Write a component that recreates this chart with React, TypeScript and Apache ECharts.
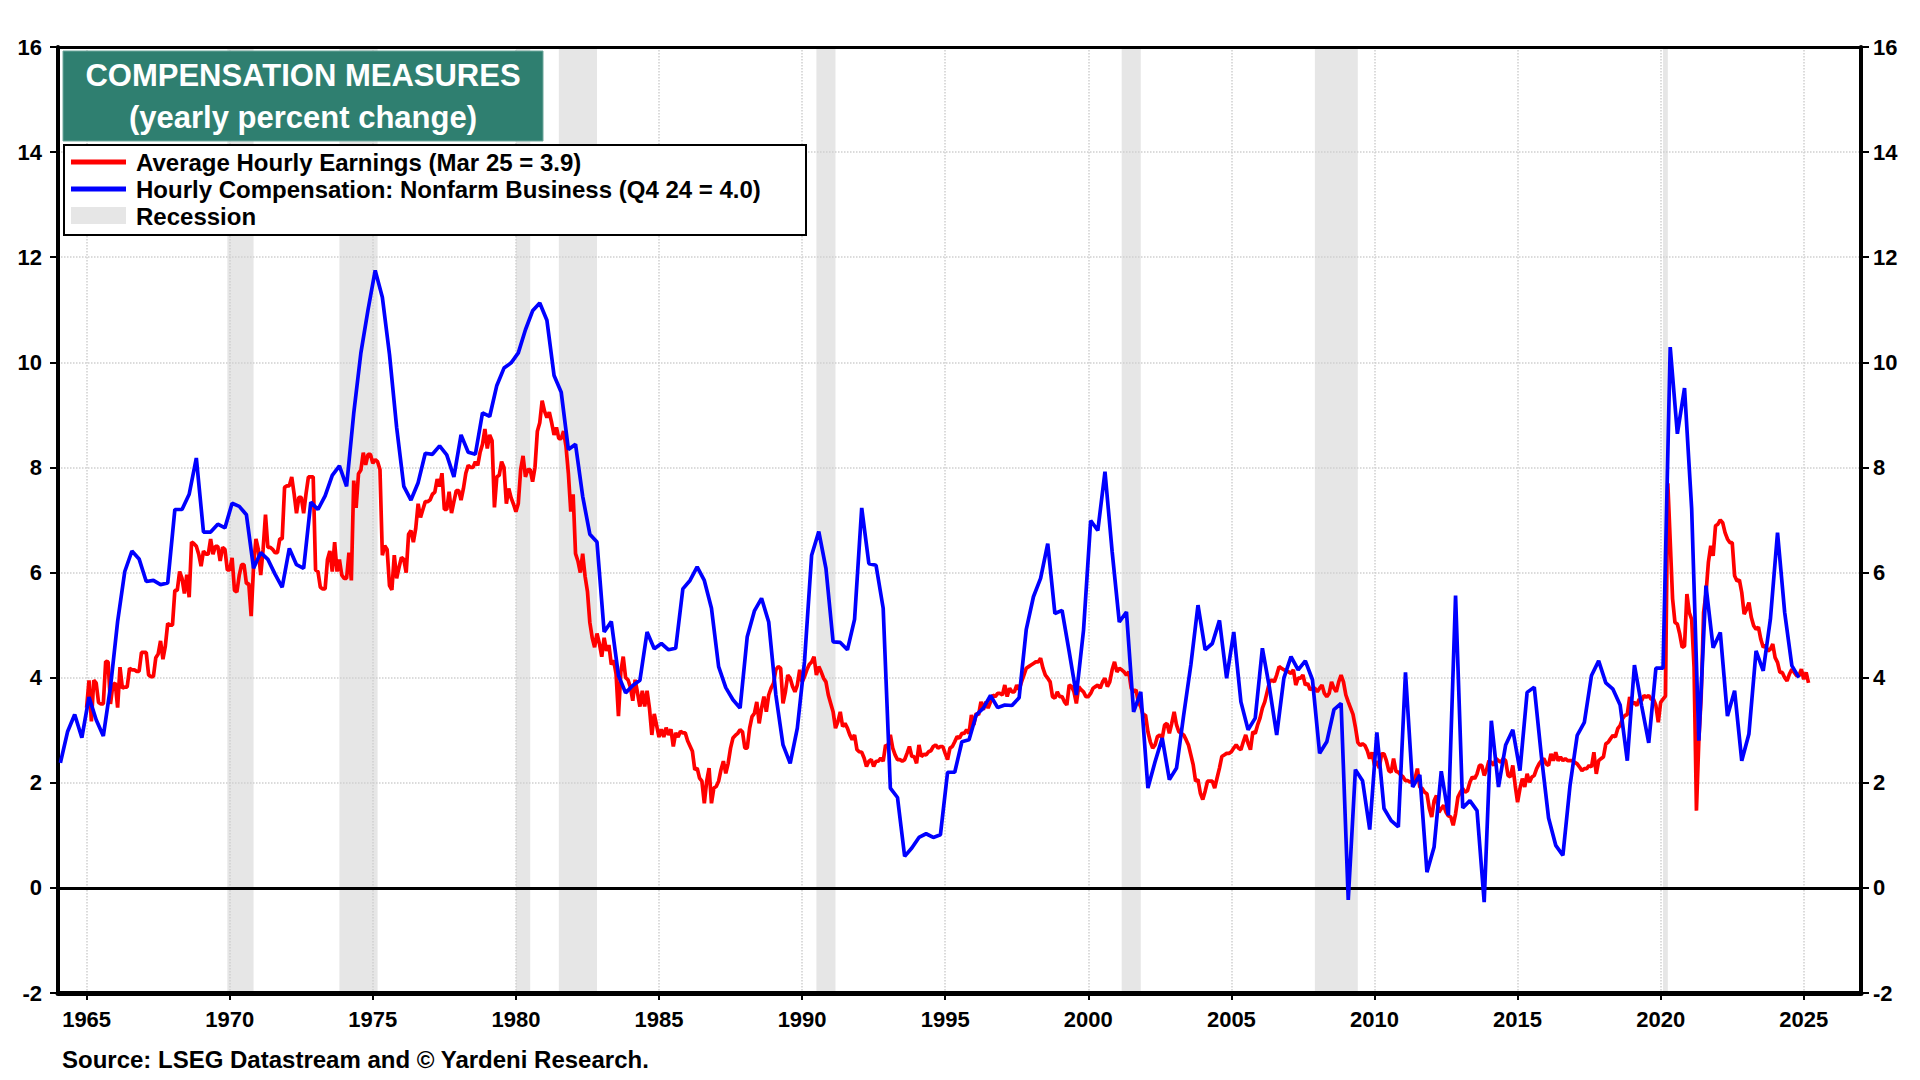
import React, { useEffect, useRef } from "react";
import * as echarts from "echarts";

// ---------- DATA ----------
// Tick labels on the time axis
const yearLabels = ["1965", "1970", "1975", "1980", "1985", "1990", "1995", "2000", "2005", "2010", "2015", "2020", "2025"];

// NBER recessions (start month, end month)
const recessions: [string, string][] = [
  ["1969-12", "1970-11"],
  ["1973-11", "1975-03"],
  ["1980-01", "1980-07"],
  ["1981-07", "1982-11"],
  ["1990-07", "1991-03"],
  ["2001-03", "2001-11"],
  ["2007-12", "2009-06"],
  ["2020-02", "2020-04"],
];

// Average Hourly Earnings, y/y % (monthly, from Jan 1965)
const ahe1965s = [
  3.43, 3.95, 3.17, 3.95, 3.9, 3.53, 3.5, 3.5, 4.31, 4.3, 3.5, 3.86,
  3.9, 3.43, 4.2, 3.8, 3.82, 3.82, 4.18, 4.15, 4.15, 4.12, 4.12, 4.48,
  4.48, 4.48, 4.05, 4.02, 4.02, 4.38, 4.45, 4.7, 4.35, 4.6, 5.03, 5.0,
  5.0, 5.66, 5.66, 6.02, 5.89, 5.6, 5.96, 5.53, 6.58, 6.55, 6.5, 6.35,
  6.12, 6.41, 6.35, 6.35, 6.64, 6.35, 6.5, 6.5, 6.22, 6.48, 6.44, 6.05,
];
const ahe1970s = [
  6.05, 6.28, 5.66, 5.63, 5.95, 6.15, 6.15, 5.79, 5.79, 5.17, 6.12, 6.64,
  6.44, 5.95, 6.44, 7.1, 6.48, 6.48, 6.44, 6.38, 6.38, 6.64, 6.64, 7.62,
  7.65, 7.65, 7.82, 7.5, 7.13, 7.43, 7.43, 7.13, 7.5, 7.82, 7.82, 7.82,
  6.05, 6.02, 5.72, 5.69, 5.69, 6.25, 6.41, 6.02, 6.58, 6.02, 6.25, 5.95,
  5.89, 5.89, 6.38, 5.85, 7.75, 7.23, 7.88, 7.95, 8.28, 8.05, 8.25, 8.25,
  8.08, 8.15, 8.11, 7.96, 6.33, 6.51, 6.44, 5.75, 5.67, 6.33, 5.89, 6.1,
  6.29, 6.25, 6.0, 6.73, 6.8, 6.58, 6.84, 7.31, 7.05, 7.2, 7.35, 7.35,
  7.38, 7.49, 7.53, 7.78, 7.64, 7.89, 7.2, 7.2, 7.54, 7.13, 7.35, 7.56,
  7.56, 7.38, 7.6, 7.89, 8.04, 8.0, 8.0, 8.11, 8.04, 8.29, 8.44, 8.73,
  8.36, 8.62, 8.51, 7.24, 7.82, 7.85, 8.11, 8.0, 7.31, 7.6, 7.42, 7.3,
];
const ahe1980s = [
  7.16, 7.31, 7.96, 8.22, 7.82, 7.96, 7.96, 7.73, 8.0, 8.69, 8.85, 9.27,
  9.07, 8.95, 9.05, 8.85, 8.62, 8.76, 8.55, 8.55, 8.69, 8.4, 7.89, 7.16,
  7.49, 6.36, 6.22, 6.0, 6.36, 5.93, 5.64, 5.05, 4.76, 4.58, 4.84, 4.65,
  4.4, 4.76, 4.51, 4.62, 4.25, 4.33, 4.07, 3.27, 4.11, 4.4, 4.0, 3.96,
  3.82, 3.56, 3.96, 3.71, 3.45, 3.75, 3.45, 3.75, 3.42, 2.91, 3.31, 3.09,
  2.87, 3.02, 2.87, 3.05, 2.91, 3.02, 2.69, 2.95, 2.87, 2.98, 2.95, 2.95,
  2.8, 2.7, 2.6, 2.25, 2.28, 2.09, 2.03, 1.61, 2.03, 2.28, 1.61, 1.9,
  1.93, 2.03, 2.25, 2.41, 2.18, 2.37, 2.66, 2.85, 2.9, 2.94, 3.01, 2.97,
  2.66, 2.66, 3.04, 3.26, 3.32, 3.54, 3.13, 3.42, 3.64, 3.35, 3.67, 3.8,
  3.89, 4.15, 4.21, 4.18, 3.51, 3.73, 4.05, 3.99, 3.83, 3.73, 3.86, 4.15,
];
const ahe1990s = [
  3.92, 4.02, 4.15, 4.25, 4.3, 4.4, 4.05, 4.21, 4.11, 3.99, 3.92, 3.67,
  3.51, 3.35, 3.04, 3.16, 3.35, 3.07, 3.13, 3.04, 2.91, 2.82, 2.91, 2.63,
  2.59, 2.58, 2.47, 2.31, 2.41, 2.44, 2.31, 2.41, 2.41, 2.47, 2.41, 2.72,
  2.69, 2.91, 2.66, 2.53, 2.44, 2.44, 2.41, 2.44, 2.56, 2.69, 2.5, 2.5,
  2.37, 2.72, 2.5, 2.54, 2.53, 2.59, 2.61, 2.69, 2.72, 2.66, 2.69, 2.69,
  2.56, 2.44, 2.66, 2.69, 2.78, 2.88, 2.85, 2.94, 2.94, 3.01, 2.94, 3.29,
  3.1, 3.32, 3.29, 3.54, 3.39, 3.54, 3.42, 3.54, 3.67, 3.64, 3.7, 3.7,
  3.67, 3.86, 3.64, 3.8, 3.73, 3.73, 3.86, 3.77, 3.92, 4.05, 4.18, 4.21,
  4.24, 4.27, 4.3, 4.3, 4.37, 4.18, 4.05, 3.99, 3.92, 3.64, 3.61, 3.73,
  3.64, 3.64, 3.54, 3.48, 3.86, 3.83, 3.73, 3.51, 3.83, 3.77, 3.73, 3.64,
];
const ahe2000s = [
  3.64, 3.7, 3.8, 3.83, 3.86, 3.8, 3.92, 3.99, 3.83, 3.92, 4.15, 4.3,
  4.11, 4.18, 4.15, 4.11, 4.05, 4.11, 3.8, 3.73, 3.77, 3.54, 3.45, 3.29,
  3.29, 2.97, 2.78, 2.66, 2.72, 2.88, 2.91, 2.85, 3.1, 3.13, 2.94, 3.13,
  3.35, 3.1, 2.97, 2.94, 2.91, 2.82, 2.72, 2.53, 2.34, 2.03, 2.06, 1.8,
  1.68, 1.84, 2.03, 2.03, 2.03, 1.9, 2.09, 2.28, 2.5, 2.53, 2.56, 2.56,
  2.59, 2.66, 2.72, 2.66, 2.63, 2.78, 2.91, 2.75, 2.63, 2.97, 2.94, 3.1,
  3.23, 3.42, 3.54, 3.73, 3.92, 3.96, 3.92, 4.05, 4.21, 4.18, 4.15, 4.13,
  4.11, 4.08, 4.15, 3.86, 3.99, 3.99, 4.05, 3.86, 3.89, 3.77, 3.8, 3.8,
  3.73, 3.8, 3.86, 3.7, 3.64, 3.7, 3.92, 3.8, 3.73, 3.92, 4.05, 3.92,
  3.67, 3.54, 3.42, 3.3, 3.06, 2.77, 2.71, 2.74, 2.71, 2.61, 2.46, 2.58,
];
const ahe2010s = [
  2.33, 2.41, 2.28, 2.55, 2.55, 2.42, 2.23, 2.2, 2.46, 2.22, 2.2, 2.15,
  2.11, 2.04, 2.04, 2.01, 2.04, 2.08, 2.27, 1.92, 1.89, 1.82, 1.79, 1.51,
  1.35, 1.66, 1.76, 1.44, 1.51, 1.57, 1.44, 1.37, 1.35, 1.19, 1.41, 1.73,
  1.82, 1.89, 1.82, 1.85, 2.01, 2.11, 2.08, 2.17, 2.33, 2.33, 2.14, 2.25,
  2.42, 2.39, 2.33, 2.46, 2.42, 2.39, 2.46, 2.42, 2.14, 2.11, 2.33, 1.95,
  1.63, 1.89, 2.08, 1.92, 2.17, 2.01, 2.11, 2.14, 2.27, 2.36, 2.42, 2.46,
  2.36, 2.33, 2.55, 2.42, 2.58, 2.42, 2.49, 2.42, 2.46, 2.42, 2.42, 2.42,
  2.39, 2.36, 2.3, 2.23, 2.27, 2.27, 2.33, 2.3, 2.58, 2.17, 2.42, 2.46,
  2.49, 2.74, 2.77, 2.84, 2.9, 2.87, 3.03, 3.09, 3.22, 3.28, 3.3, 3.63,
  3.5, 3.53, 3.47, 3.59, 3.56, 3.66, 3.63, 3.66, 3.59, 3.59, 3.47, 3.15,
];
const ahe2020s = [
  3.53, 3.59, 3.65, 7.7, 6.6, 5.5, 5.05, 5.02, 4.83, 4.58, 4.6, 5.59,
  5.24, 5.11, 4.2, 1.47, 2.8, 3.65, 5.24, 5.6, 6.19, 6.51, 6.32, 6.89,
  6.92, 7.0, 6.95, 6.76, 6.64, 6.57, 6.57, 5.94, 5.84, 5.86, 5.62, 5.21,
  5.3, 5.43, 5.15, 4.99, 4.92, 4.96, 4.73, 4.58, 4.61, 4.51, 4.54, 4.64,
  4.38, 4.29, 4.1, 4.1, 4.0, 3.94, 4.07, 4.16, 4.1, 4.04, 4.04, 4.16,
  3.97, 4.1, 3.9,
];

// Hourly Compensation: Nonfarm Business, y/y % (quarterly, from 1964 Q1)
const compQ1964_1983 = [
  2.38, 2.97, 3.3, 2.86,
  3.63, 3.2, 2.89, 3.82,
  5.07, 6.02, 6.41, 6.26,
  5.83, 5.85, 5.77, 5.8,
  7.2, 7.2, 7.49, 8.18,
  6.77, 6.77, 6.92, 6.85,
  7.32, 7.26, 7.1, 6.08,
  6.38, 6.25, 5.97, 5.72,
  6.46, 6.15, 6.08, 7.34,
  7.2, 7.46, 7.85, 8.03,
  7.64, 9.03, 10.18, 11.0,
  11.75, 11.24, 10.15, 8.76,
  7.64, 7.38, 7.71, 8.27,
  8.25, 8.41, 8.24, 7.82,
  8.62, 8.29, 8.25, 9.04,
  8.97, 9.56, 9.89, 9.99,
  10.18, 10.62, 10.98, 11.13,
  10.8, 9.75, 9.43, 8.34,
  8.44, 7.45, 6.73, 6.58,
  4.87, 5.07, 4.04, 3.71,
];
const compQ1984_2003 = [
  3.85, 3.95, 4.87, 4.55,
  4.65, 4.53, 4.56, 5.69,
  5.85, 6.11, 5.85, 5.32,
  4.21, 3.81, 3.58, 3.42,
  4.78, 5.27, 5.51, 5.06,
  3.67, 2.72, 2.37, 3.04,
  4.3, 6.33, 6.78, 6.08,
  4.68, 4.67, 4.53, 5.11,
  7.23, 6.17, 6.14, 5.32,
  1.9, 1.72, 0.6, 0.76,
  0.96, 1.03, 0.96, 1.01,
  2.2, 2.2, 2.78, 2.82,
  3.29, 3.42, 3.66, 3.43,
  3.48, 3.47, 3.62, 4.92,
  5.54, 5.89, 6.55, 5.22,
  5.28, 4.49, 3.67, 4.9,
  6.99, 6.8, 7.92, 6.4,
  5.06, 5.25, 3.35, 3.73,
  1.9, 2.4, 2.85, 2.06,
  2.28, 3.29, 4.24, 5.38,
];
const compQ2004_2024 = [
  4.53, 4.65, 5.09, 3.99,
  4.87, 3.54, 3.01, 3.23,
  4.56, 3.8, 2.91, 3.99,
  4.4, 4.15, 4.32, 3.96,
  2.56, 2.78, 3.39, 3.51,
  -0.23, 2.25, 2.04, 1.11,
  2.96, 1.51, 1.28, 1.16,
  4.1, 1.92, 2.15, 0.3,
  0.78, 2.22, 1.38, 5.56,
  1.52, 1.66, 1.47, -0.27,
  3.18, 1.92, 2.72, 3.01,
  2.23, 3.72, 3.82, 2.5,
  1.33, 0.81, 0.62, 1.95,
  2.9, 3.15, 4.04, 4.32,
  3.9, 3.78, 3.48, 2.42,
  4.24, 3.47, 2.76, 4.18,
  4.18, 10.29, 8.64, 9.51,
  7.21, 2.8, 5.75, 4.57,
  4.86, 3.27, 3.75, 2.42,
  2.93, 4.51, 4.13, 5.11,
  6.76, 5.24, 4.23, 4.0,
];

const redName = "Average Hourly Earnings (Mar 25 = 3.9)";
const blueName = "Hourly Compensation: Nonfarm Business (Q4 24 = 4.0)";
const recessionName = "Recession";
const titleLine1 = "COMPENSATION MEASURES";
const titleLine2 = "(yearly percent change)";
const sourceText = "Source: LSEG Datastream and \u00A9 Yardeni Research.";

// ---------- BUILD ----------
const FONT = '"Liberation Sans", Arial, Helvetica, sans-serif';
const pad2 = (n: number) => String(n).padStart(2, "0");
const categories: string[] = [];
for (let y = 1964; y <= 2026; y++) for (let m = 1; m <= 12; m++) categories.push(`${y}-${pad2(m)}`);
categories.push("2027-01");

const aheAll = [...ahe1965s, ...ahe1970s, ...ahe1980s, ...ahe1990s, ...ahe2000s, ...ahe2010s, ...ahe2020s];
const compAll = [...compQ1964_1983, ...compQ1984_2003, ...compQ2004_2024];
const firstAheIndex = categories.indexOf("1965-01");
const redData = aheAll.map((v, i) => [categories[firstAheIndex + i], v]);
const blueData = compAll.map((v, q) => [categories[1 + 3 * q], v]);

const isYearTick = (_i: number, value: string) =>
  value.endsWith("-01") && yearLabels.includes(value.slice(0, 4));

export default function App() {
  const ref = useRef<HTMLDivElement>(null);
  useEffect(() => {
    if (!ref.current) return;
    const chart = echarts.init(ref.current, undefined, { renderer: "svg" });
    const yAxisBase = {
      type: "value",
      min: -2,
      max: 16,
      interval: 2,
      z: 2,
      axisLine: { show: true, lineStyle: { color: "#000", width: 4 } },
      axisTick: { show: true, length: 8, lineStyle: { color: "#000", width: 2 } },
      axisLabel: { color: "#000", fontFamily: FONT, fontWeight: "bold", fontSize: 22 },
    };
    chart.setOption({
      animation: false,
      backgroundColor: "#fff",
      grid: {
        left: 58,
        right: 59,
        top: 47,
        bottom: 87,
      },
      xAxis: [
        {
          type: "category",
          data: categories,
          boundaryGap: false,
          position: "bottom",
          z: 2,
          axisLine: { onZero: false, lineStyle: { color: "#000", width: 5 } },
          axisTick: { show: true, interval: isYearTick, length: 7, lineStyle: { color: "#000", width: 2 } },
          axisLabel: {
            interval: isYearTick,
            formatter: (v: string) => v.slice(0, 4),
            color: "#000",
            fontFamily: FONT,
            fontWeight: "bold",
            fontSize: 22,
            margin: 15,
          },
          splitLine: {
            show: true,
            interval: isYearTick,
            lineStyle: { color: "#cfcfcf", type: "dotted", width: 1.5 },
          },
        },
        {
          type: "category",
          data: categories,
          boundaryGap: false,
          position: "top",
          z: 2,
          axisLine: { show: true, onZero: false, lineStyle: { color: "#000", width: 3 } },
          axisTick: { show: false },
          axisLabel: { show: false },
          splitLine: { show: false },
        },
      ],
      yAxis: [
        {
          ...yAxisBase,
          position: "left",
          axisLabel: { ...yAxisBase.axisLabel, margin: 16 },
          splitLine: { show: true, lineStyle: { color: "#cfcfcf", type: "dotted", width: 1.5 } },
        },
        {
          ...yAxisBase,
          position: "right",
          axisLabel: { ...yAxisBase.axisLabel, margin: 12 },
          splitLine: { show: false },
        },
      ],
      series: [
        {
          name: redName,
          type: "line",
          data: redData,
          showSymbol: false,
          symbol: "none",
          silent: true,
          z: 4,
          lineStyle: { color: "#ff0000", width: 3.7 },
          itemStyle: { color: "#ff0000" },
          markArea: {
            silent: true,
            z: 1,
            itemStyle: { color: "#e6e6e6" },
            data: recessions.map(([s, e]) => [{ xAxis: s }, { xAxis: e }]),
          },
          markLine: {
            silent: true,
            z: 3,
            symbol: ["none", "none"],
            label: { show: false },
            lineStyle: { color: "#000", width: 3, type: "solid" },
            data: [{ yAxis: 0 }],
          },
        },
        {
          name: blueName,
          type: "line",
          data: blueData,
          showSymbol: false,
          symbol: "none",
          silent: true,
          z: 5,
          lineStyle: { color: "#0000ff", width: 3.7 },
          itemStyle: { color: "#0000ff" },
        },
      ],
      graphic: [
        {
          type: "rect",
          z: 20,
          shape: { x: 63, y: 51, width: 480, height: 90 },
          style: { fill: "#2f7f70", stroke: "#6fa89c", lineWidth: 1 },
        },
        {
          type: "text",
          z: 21,
          x: 303,
          y: 75,
          style: {
            text: titleLine1,
            fill: "#fff",
            font: `bold 31px ${FONT}`,
            align: "center",
            verticalAlign: "middle",
          },
        },
        {
          type: "text",
          z: 21,
          x: 303,
          y: 117,
          style: {
            text: titleLine2,
            fill: "#fff",
            font: `bold 31px ${FONT}`,
            align: "center",
            verticalAlign: "middle",
          },
        },
        {
          type: "rect",
          z: 20,
          shape: { x: 64, y: 145, width: 742, height: 90 },
          style: { fill: "#fff", stroke: "#000", lineWidth: 2 },
        },
        {
          type: "line",
          z: 21,
          shape: { x1: 71, y1: 162, x2: 126, y2: 162 },
          style: { stroke: "#ff0000", lineWidth: 5 },
        },
        {
          type: "line",
          z: 21,
          shape: { x1: 71, y1: 189, x2: 126, y2: 189 },
          style: { stroke: "#0000ff", lineWidth: 5 },
        },
        {
          type: "rect",
          z: 21,
          shape: { x: 71, y: 207, width: 55, height: 17 },
          style: { fill: "#e6e6e6" },
        },
        ...[redName, blueName, recessionName].map((t, i) => ({
          type: "text",
          z: 21,
          x: 136,
          y: 162 + i * 27,
          style: {
            text: t,
            fill: "#000",
            font: `bold 24px ${FONT}`,
            align: "left",
            verticalAlign: "middle",
          },
        })),
        {
          type: "text",
          z: 21,
          x: 62,
          y: 1059,
          style: {
            text: sourceText,
            fill: "#000",
            font: `bold 24px ${FONT}`,
            align: "left",
            verticalAlign: "middle",
          },
        },
      ],
    });
    return () => chart.dispose();
  }, []);
  return (
    <div
      ref={ref}
      style={{ position: "absolute", left: 0, top: 0, width: 1920, height: 1080, background: "#fff" }}
    />
  );
}
